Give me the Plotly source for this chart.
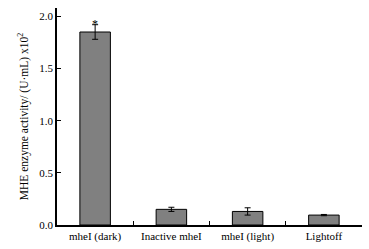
import plotly.graph_objects as go

categories = ["mheI (dark)", "Inactive mheI", "mheI (light)", "Lightoff"]
values = [1.85, 0.15, 0.13, 0.095]
errors = [0.07, 0.02, 0.035, 0.006]
marks = ["*", "", "", ""]

font = dict(family="Liberation Serif, Times New Roman, serif", size=11, color="black")

fig = go.Figure()
fig.add_trace(go.Bar(
    x=categories, y=values, width=0.4,
    marker=dict(color="#808080", line=dict(color="black", width=1)),
    error_y=dict(type="data", array=errors, color="black", thickness=1, width=3),
))
for c, v, e, m in zip(categories, values, errors, marks):
    if m:
        fig.add_annotation(x=c, y=v + e, text=m, showarrow=False, yanchor="bottom",
                           yshift=-8, font=dict(family=font["family"], size=12, color="black"))

fig.update_layout(
    width=369, height=249,
    margin=dict(l=57, r=7, t=8, b=24),
    plot_bgcolor="white", paper_bgcolor="white",
    font=font, showlegend=False,
)
fig.update_xaxes(
    type="category", tickson="boundaries", ticks="inside", ticklen=4,
    showline=True, linecolor="black", linewidth=1.5, tickcolor="black",
    showgrid=False, range=[-0.5, 3.5],
)
fig.update_yaxes(
    range=[0, 2.08], tickvals=[0, 0.5, 1.0, 1.5, 2.0],
    ticktext=["0.0", "0.5", "1.0", "1.5", "2.0"],
    ticks="inside", ticklen=4, tickcolor="black",
    showline=True, linecolor="black", linewidth=1.5, showgrid=False, zeroline=False,
    title=dict(text="MHE enzyme activity/ (U·mL) x10<sup>2</sup>", standoff=8,
               font=dict(family=font["family"], size=11.5)),
)
fig.write_html("out.html", config={"displayModeBar": False},
               post_script="document.body.style.margin='0';document.body.style.overflow='hidden';")
